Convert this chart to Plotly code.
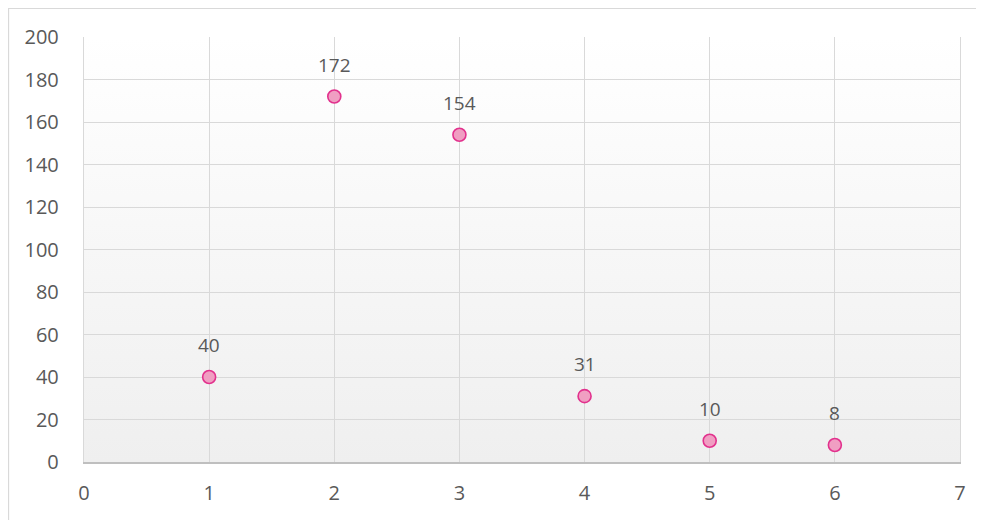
import plotly.graph_objects as go

x_values = [1, 2, 3, 4, 5, 6]
y_values = [40, 172, 154, 31, 10, 8]
x_ticks = [0, 1, 2, 3, 4, 5, 6, 7]
y_ticks = [0, 20, 40, 60, 80, 100, 120, 140, 160, 180, 200]

font_family = "Open Sans, Liberation Sans, sans-serif"
text_color = "#595959"
grid_color = "#d9d9d9"

gradient_svg = (
    "data:image/svg+xml;utf8,"
    "<svg xmlns='http://www.w3.org/2000/svg' width='10' height='100' preserveAspectRatio='none'>"
    "<defs><linearGradient id='g' x1='0' y1='0' x2='0' y2='1'>"
    "<stop offset='0' stop-color='%23ffffff'/>"
    "<stop offset='1' stop-color='%23efefef'/>"
    "</linearGradient></defs>"
    "<rect width='10' height='100' fill='url(%23g)'/></svg>"
)

fig = go.Figure()
fig.add_trace(go.Scatter(
    x=x_values,
    y=y_values,
    mode="markers",
    marker=dict(size=13, color="#f09ec2", line=dict(color="#e2318d", width=1.6)),
    hoverinfo="x+y",
    showlegend=False,
))

for xv, yv in zip(x_values, y_values):
    fig.add_annotation(
        x=xv, y=yv, text=str(yv), showarrow=False,
        yshift=32, font=dict(size=19, color=text_color, family=font_family),
    )

fig.add_layout_image(
    source=gradient_svg, xref="paper", yref="paper", x=0, y=1,
    sizex=1, sizey=1, sizing="stretch", xanchor="left", yanchor="top",
    layer="below",
)

# outer chart border (page has an 8px body margin)
fig.add_shape(
    type="rect", xref="paper", yref="paper",
    x0=-76 / 876 + 0.0006, x1=1.2,
    y0=-0.3, y1=1 + 29 / 425 - 0.001,
    line=dict(color="#d9d9d9", width=1.2), fillcolor="rgba(0,0,0,0)", layer="below",
)

fig.update_layout(
    width=976,
    height=512,
    margin=dict(l=76, r=24, t=29, b=58),
    paper_bgcolor="white",
    plot_bgcolor="rgba(0,0,0,0)",
    font=dict(family=font_family, size=19, color=text_color),
    xaxis=dict(
        range=[0, 7], tickvals=x_ticks, showgrid=True, gridcolor=grid_color, gridwidth=1.4,
        zeroline=False, showline=True, linecolor="#bfbfbf", linewidth=1.5, mirror=False,
        ticks="", ticklabelstandoff=12, tickfont=dict(size=20, color=text_color), fixedrange=True,
    ),
    yaxis=dict(
        range=[0, 200], tickvals=y_ticks, showgrid=True, gridcolor=grid_color, gridwidth=1.4,
        zeroline=False, showline=True, linecolor=grid_color, linewidth=1.4, mirror=True,
        ticks="", ticklabelstandoff=20, tickfont=dict(size=20, color=text_color), fixedrange=True,
    ),
)

fig.write_html("out.html")
